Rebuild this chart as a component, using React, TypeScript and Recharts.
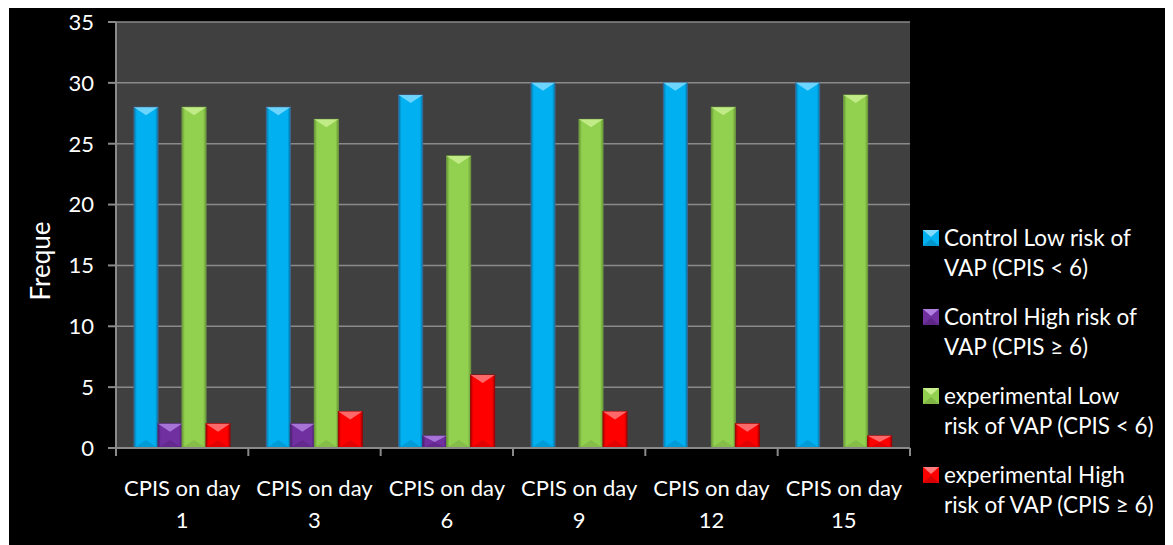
import React from 'react';
import { BarChart, Bar, XAxis, YAxis, CartesianGrid, Label } from 'recharts';

const days = ['1', '3', '6', '9', '12', '15'];
const controlLow = [28, 28, 29, 30, 30, 30];
const controlHigh = [2, 2, 1, 0, 0, 0];
const expLow = [28, 27, 24, 27, 28, 29];
const expHigh = [2, 3, 6, 3, 2, 1];
const yTicks = [0, 5, 10, 15, 20, 25, 30, 35];

const seriesNames = [
  'Control Low risk of VAP (CPIS < 6)',
  'Control High risk of VAP (CPIS ≥ 6)',
  'experimental Low risk of VAP (CPIS < 6)',
  'experimental High risk of VAP (CPIS ≥ 6)',
];
// where each legend label wraps onto its second line
const legendBreaks = ['Control Low risk of', 'Control High risk of', 'experimental Low', 'experimental High'];

const palette = [
  { base: '#00B0F0', light: '#7fdcff', dark: '#0079a8', edge: '#3a6b9c' },
  { base: '#7030A0', light: '#b07fe0', dark: '#4a1c6e', edge: '#4f2a72' },
  { base: '#92D050', light: '#c9f08f', dark: '#6c9c38', edge: '#70a03e' },
  { base: '#FF0000', light: '#ff7a7a', dark: '#b00000', edge: '#a00000' },
];

const data = days.map((d, i) => ({
  name: d,
  controlLow: controlLow[i],
  controlHigh: controlHigh[i],
  expLow: expLow[i],
  expHigh: expHigh[i],
}));

const keys = ['controlLow', 'controlHigh', 'expLow', 'expHigh'];

const FONT = 'Lato, "Noto Sans", sans-serif';
const W = 1164;
const H = 538;
const X_H = 30;
const M = { top: 15, right: 263, bottom: 97 - X_H, left: 0 };
const Y_W = 107;
const band = (W - M.right - Y_W) / days.length;

function makeShape(idx: number) {
  const c = palette[idx];
  return (props: any) => {
    const { x, y, width, height } = props;
    if (!height || height <= 0) return null;
    const d = Math.min(width / 3, height / 2);
    return (
      <g>
        <rect x={x} y={y} width={width} height={height} fill={`url(#grad${idx})`} stroke={c.edge} strokeWidth={1} />
        <polygon points={`${x},${y} ${x + width},${y} ${x + width / 2},${y + d}`} fill={c.light} opacity={0.85} />
        <polygon points={`${x},${y + height} ${x + width},${y + height} ${x + width / 2},${y + height - d}`} fill={c.dark} opacity={0.35} />
      </g>
    );
  };
}

const XTick = (props: any) => {
  const { x, y, payload, index } = props;
  const left = x - band / 2;
  return (
    <g>
      <line x1={left} y1={y} x2={left} y2={y + 8} stroke="#8a8a8a" strokeWidth={2} />
      {index === days.length - 1 && (
        <line x1={left + band} y1={y} x2={left + band} y2={y + 8} stroke="#8a8a8a" strokeWidth={2} />
      )}
      <text x={x} y={y + 48} textAnchor="middle" fill="#fff" fontSize={22} fontFamily={FONT}>CPIS on day</text>
      <text x={x} y={y + 80} textAnchor="middle" fill="#fff" fontSize={22} fontFamily={FONT}>{payload.value}</text>
    </g>
  );
};

const LegendIcon = ({ idx }: { idx: number }) => {
  const c = palette[idx];
  return (
    <svg width={16} height={16} style={{ display: 'block' }}>
      <rect x={0} y={0} width={16} height={16} fill={c.base} />
      <polygon points="0,0 16,0 8,7" fill={c.light} />
      <polygon points="0,16 16,16 8,9" fill={c.dark} opacity={0.5} />
    </svg>
  );
};

const LegendBox = () => (
  <div style={{ position: 'absolute', left: 914, top: 216, fontFamily: FONT, color: '#fff', fontSize: 22.5, lineHeight: '30px' }}>
    {seriesNames.map((n, i) => {
      const first = legendBreaks[i];
      const rest = n.slice(first.length + 1);
      return (
        <div key={n} style={{ display: 'flex', alignItems: 'flex-start', marginBottom: 19 }}>
          <div style={{ marginTop: 7, marginRight: 5 }}>
            <LegendIcon idx={i} />
          </div>
          <div>
            <div>{first}</div>
            <div>{rest}</div>
          </div>
        </div>
      );
    })}
  </div>
);

export default function App() {
  return (
    <div style={{ position: 'relative', width: W, height: H, background: '#000', marginTop: -1, marginLeft: 1 }}>
      <BarChart width={W} height={H} data={data} margin={M} barGap={0} barCategoryGap={18}>
        <defs>
          {palette.map((c, i) => (
            <linearGradient key={i} id={`grad${i}`} x1="0" y1="0" x2="1" y2="0">
              <stop offset="0%" stopColor={c.dark} />
              <stop offset="12%" stopColor={c.base} />
              <stop offset="88%" stopColor={c.base} />
              <stop offset="100%" stopColor={c.dark} />
            </linearGradient>
          ))}
        </defs>
        <CartesianGrid vertical={false} stroke="#8a8a8a" strokeWidth={1.5} fill="#404040" />
        <XAxis
          dataKey="name"
          height={X_H}
          stroke="#8a8a8a"
          strokeWidth={2}
          tickLine={false}
          tickSize={0}
          tickMargin={0}
          tick={<XTick />}
          interval={0}
        />
        <YAxis
          width={Y_W}
          domain={[0, 35]}
          ticks={yTicks}
          interval={0}
          stroke="#8a8a8a"
          strokeWidth={2}
          tickSize={8}
          tickMargin={14}
          tick={{ fill: '#fff', fontSize: 22, fontFamily: FONT }}
        >
          <Label
            content={() => (
              <text
                x={34}
                y={254}
                transform="rotate(-90 34 254)"
                textAnchor="middle"
                dominantBaseline="middle"
                fill="#fff"
                fontSize={26}
                fontFamily={FONT}
              >
                Freque
              </text>
            )}
          />
        </YAxis>
        {keys.map((k, i) => (
          <Bar key={k} dataKey={k} name={seriesNames[i]} fill={palette[i].base} shape={makeShape(i)} isAnimationActive={false} />
        ))}
      </BarChart>
      <LegendBox />
    </div>
  );
}
